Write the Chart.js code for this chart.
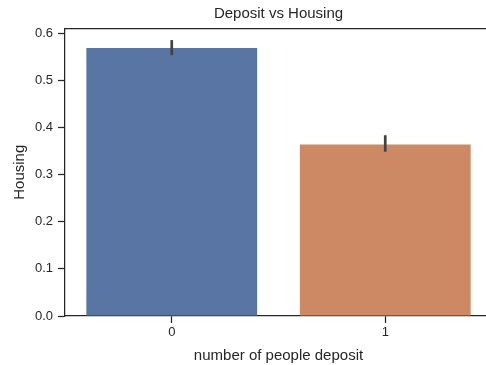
<!DOCTYPE html>
<html>
<head>
<meta charset="utf-8">
<script src="https://cdn.jsdelivr.net/npm/chart.js@4.4.0/dist/chart.umd.min.js"></script>
<style>
  html, body { margin: 0; padding: 0; background: #fff; overflow: hidden; }
  #clip { width: 486px; height: 365px; overflow: hidden; }
  #wrap { width: 492px; height: 365px; }
</style>
</head>
<body>
<div id="clip"><div id="wrap"><canvas id="depositChart"></canvas></div></div>
<script>
// ------- deposit vs housing -------

const chartTitle = 'Deposit vs Housing';
const categories = ['0', '1'];
const housing = [0.569, 0.364];
const errLow = [0.554, 0.349];
const errHigh = [0.586, 0.384];
const yTicks = [0, 0.1, 0.2, 0.3, 0.4, 0.5, 0.6];

const ink = '#262626';
const fontFamily = '"Liberation Sans", Arial, sans-serif';

// error bars, top/right spines and a title centred over the plot area
const errorBars = {
  id: 'errorBars',
  afterDatasetsDraw(chart) {
    const ctx = chart.ctx;
    const x = chart.scales.x, y = chart.scales.y;
    ctx.save();
    ctx.strokeStyle = '#424242';
    ctx.lineWidth = 2.7;
    ctx.lineCap = 'butt';
    housing.forEach((v, i) => {
      const px = x.getPixelForValue(i);
      ctx.beginPath();
      ctx.moveTo(px, y.getPixelForValue(errLow[i]));
      ctx.lineTo(px, y.getPixelForValue(errHigh[i]));
      ctx.stroke();
    });
    const a = chart.chartArea;
    ctx.strokeStyle = ink;
    ctx.lineWidth = 1.25;
    ctx.beginPath();
    ctx.moveTo(a.left, a.top);
    ctx.lineTo(a.right, a.top);
    ctx.lineTo(a.right, a.bottom);
    ctx.stroke();

    ctx.fillStyle = ink;
    ctx.font = '15px ' + fontFamily;
    ctx.textAlign = 'center';
    ctx.textBaseline = 'middle';
    ctx.fillText(chartTitle, (a.left + a.right) / 2, a.top - 14.5);
    ctx.restore();
  }
};

const data = {
  labels: categories,
  datasets: [
    {
      label: 'Housing',
      data: housing,
      backgroundColor: ['#5875a4', '#cc8963'],
      borderWidth: 0,
      categoryPercentage: 0.8,
      barPercentage: 1.0,
    }
  ]
};

const config = {
  type: 'bar',
  data: data,
  plugins: [errorBars],
  options: {
    responsive: true,
    maintainAspectRatio: false,
    animation: false,
    layout: { padding: { top: 28.5, left: 0, right: 0, bottom: 0 } },
    plugins: {
      legend: { display: false },
      tooltip: { enabled: false },
      title: { display: false }
    },
    scales: {
      x: {
        grid: { offset: false, drawOnChartArea: false, tickLength: 7, tickColor: ink, tickWidth: 1.25 },
        border: { color: ink, width: 1.25 },
        ticks: { color: ink, padding: 2, font: { family: fontFamily, size: 13 } },
        title: {
          display: true,
          text: 'number of people deposit',
          color: ink,
          font: { family: fontFamily, size: 15 },
          padding: { top: 2, bottom: 0 }
        },
        afterFit(scale) { scale.height = 49; }
      },
      y: {
        min: 0,
        max: 0.6106,
        grid: { drawOnChartArea: false, tickLength: 7, tickColor: ink, tickWidth: 1.25 },
        border: { color: ink, width: 1.25 },
        ticks: {
          color: ink,
          padding: 5,
          font: { family: fontFamily, size: 13 },
          callback: (v) => v.toFixed(1)
        },
        afterBuildTicks(scale) {
          scale.ticks = yTicks.map(v => ({ value: v }));
        },
        title: {
          display: true,
          text: 'Housing',
          color: ink,
          font: { family: fontFamily, size: 15 },
          padding: { top: 11, bottom: 0 }
        },
        afterFit(scale) { scale.width = 65; }
      }
    }
  }
};

const myChart = new Chart(
  document.getElementById('depositChart'),
  config
);
</script>
</body>
</html>
